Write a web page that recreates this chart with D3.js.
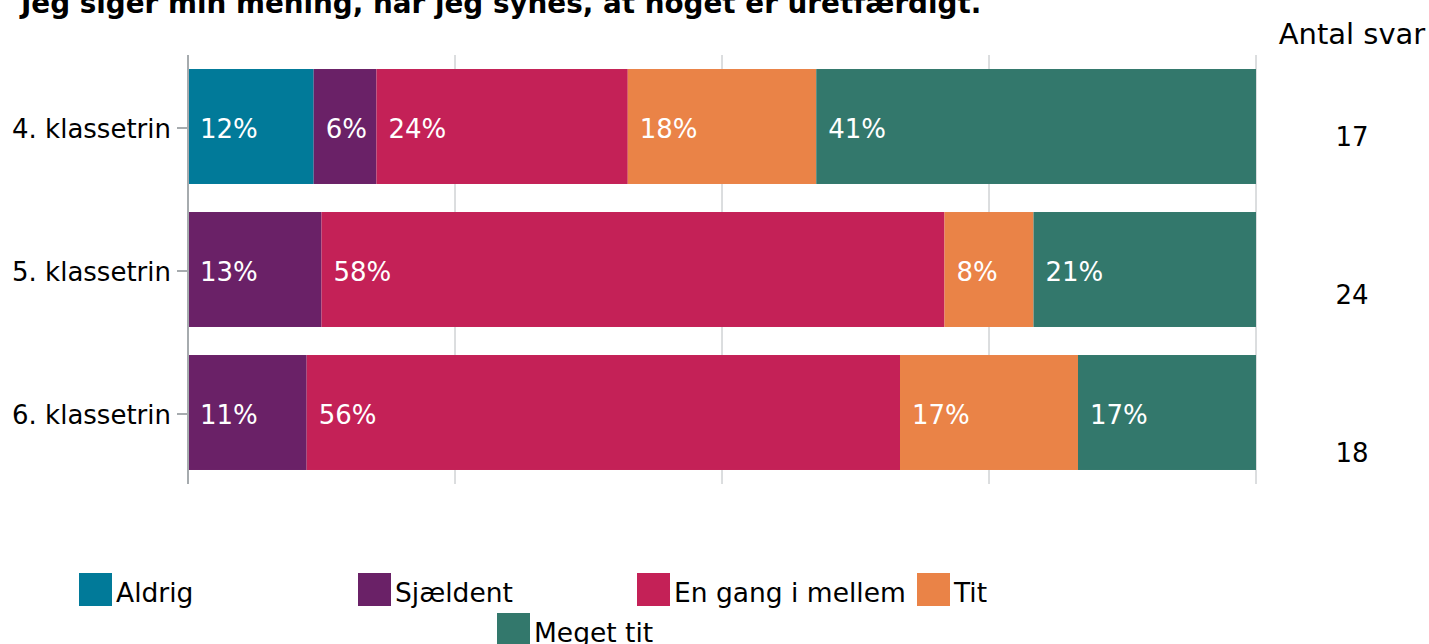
<!DOCTYPE html>
<html>
<head>
<meta charset="utf-8">
<script src="https://cdn.jsdelivr.net/npm/d3@7"></script>
<style>
  html, body { margin: 0; padding: 0; background: #fff; }
  svg { display: block; font-family: "DejaVu Sans", Verdana, sans-serif; }
</style>
</head>
<body>
<svg id="chart" width="1429" height="644"></svg>
<script>
// Survey question and answer categories
const title = "Jeg siger min mening, når jeg synes, at noget er uretfærdigt.";
const grades = ["4. klassetrin", "5. klassetrin", "6. klassetrin"];
const answers = ["Aldrig", "Sjældent", "En gang i mellem", "Tit", "Meget tit"];
const colors = ["#017a99", "#6a2167", "#c42157", "#ea8347", "#33786c"];

// Number of pupils giving each answer, per grade (order follows `answers`)
const aldrig     = [2, 0, 0];
const sjaeldent  = [1, 3, 2];
const enGang     = [4, 14, 10];
const tit        = [3, 2, 3];
const megetTit   = [7, 5, 3];
const series = [aldrig, sjaeldent, enGang, tit, megetTit];

// Total respondents per grade
const antalSvar = [17, 24, 18];
const percentTicks = [0, 25, 50, 75, 100];

const svg = d3.select("#chart");

// Rows: one object per grade with share (%) of each answer
const rows = grades.map((g, i) => {
  const row = { grade: g };
  answers.forEach((a, j) => { row[a] = series[j][i] / antalSvar[i] * 100; });
  return row;
});
const stacked = d3.stack().keys(answers)(rows);

const x = d3.scaleLinear().domain([0, 100]).range([188, 1256]);
const y = d3.scaleBand().domain(grades).range([55, 484]).paddingInner(0.196).paddingOuter(0.098);
const color = d3.scaleOrdinal().domain(answers).range(colors);

// Title (partly above the top edge)
svg.append("text")
  .attr("x", 21).attr("y", 13)
  .attr("font-weight", "bold").attr("font-size", 27.8)
  .attr("fill", "#000")
  .text(title);

// Vertical gridlines
svg.append("g").selectAll("line")
  .data(percentTicks.slice(1))
  .join("line")
  .attr("x1", d => x(d)).attr("x2", d => x(d))
  .attr("y1", 55).attr("y2", 484)
  .attr("stroke", "#b8bcbf").attr("stroke-width", 1);

// Stacked bars
const layer = svg.append("g").selectAll("g")
  .data(stacked)
  .join("g")
  .attr("fill", d => color(d.key));

layer.selectAll("rect")
  .data(d => d.map(v => ({ key: d.key, v })).filter(d => d.v[1] - d.v[0] > 0))
  .join("rect")
  .attr("x", d => x(d.v[0]))
  .attr("y", d => y(d.v.data.grade))
  .attr("width", d => x(d.v[1]) - x(d.v[0]))
  .attr("height", y.bandwidth());

// Percentage labels inside the segments
layer.selectAll("text")
  .data(d => d.map(v => ({ key: d.key, v })).filter(d => d.v[1] - d.v[0] > 0))
  .join("text")
  .attr("x", d => x(d.v[0]) + 12)
  .attr("y", d => y(d.v.data.grade) + y.bandwidth() / 2)
  .attr("dy", "0.44em")
  .attr("font-size", 26)
  .attr("fill", "#fff")
  .text(d => Math.round(d.v[1] - d.v[0]) + "%");

// Category axis on the left
const yAxis = svg.append("g")
  .attr("transform", "translate(188,0)")
  .call(d3.axisLeft(y).tickSize(11).tickPadding(6));
yAxis.select(".domain").remove();
yAxis.selectAll(".tick").attr("transform", d => `translate(0,${y(d) + y.bandwidth() / 2 + 1.5})`);
yAxis.selectAll(".tick line").attr("stroke", "#a6abae").attr("stroke-width", 2);
yAxis.selectAll(".tick text")
  .attr("font-size", 26).attr("fill", "#000").attr("dy", "0.39em")
  .attr("font-family", "DejaVu Sans, Verdana, sans-serif");

svg.append("line")
  .attr("x1", x(0)).attr("x2", x(0))
  .attr("y1", 55).attr("y2", 484)
  .attr("stroke", "#a6abae").attr("stroke-width", 2);

// Respondent counts on the right
svg.append("text")
  .attr("x", 1352).attr("y", 43.5)
  .attr("text-anchor", "middle")
  .attr("font-size", 29).attr("fill", "#000")
  .text("Antal svar");

const yCount = d3.scaleBand().domain(grades).range([58, 531]);
svg.append("g").selectAll("text")
  .data(antalSvar)
  .join("text")
  .attr("x", 1352)
  .attr("y", (d, i) => yCount(grades[i]) + yCount.bandwidth() / 2)
  .attr("dy", "0.36em")
  .attr("text-anchor", "middle")
  .attr("font-size", 26).attr("fill", "#000")
  .text(d => d);

// Legend: four items on the first row, the fifth centred below
const legendPos = [
  [79, 573], [358, 573], [637, 573], [917, 573], [497, 613]
];
const legend = svg.append("g").selectAll("g")
  .data(answers)
  .join("g")
  .attr("transform", (d, i) => `translate(${legendPos[i][0]},${legendPos[i][1]})`);
legend.append("rect")
  .attr("width", 33).attr("height", 33)
  .attr("fill", d => color(d));
legend.append("text")
  .attr("x", 37).attr("y", 29)
  .attr("font-size", 26.5).attr("fill", "#000")
  .text(d => d);
</script>
</body>
</html>
